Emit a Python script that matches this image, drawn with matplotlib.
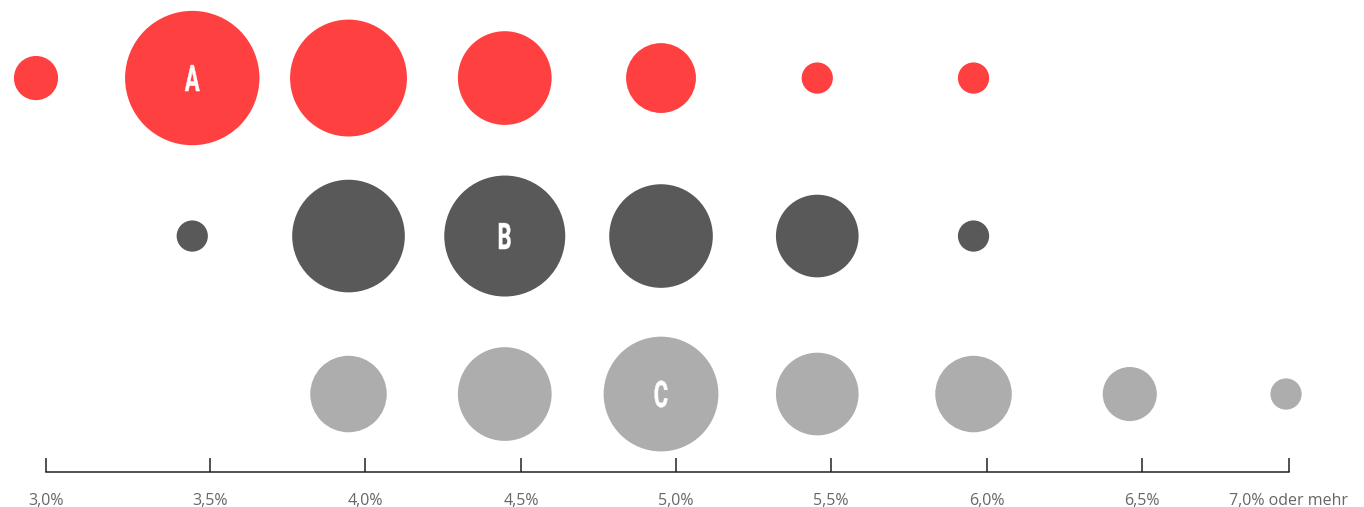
import numpy as np
import matplotlib
matplotlib.use("Agg")
import matplotlib.pyplot as plt
from matplotlib.textpath import TextPath
from matplotlib.patches import PathPatch
from matplotlib.font_manager import FontProperties
from matplotlib.transforms import Affine2D, ScaledTranslation

# Interest-rate buckets (x axis)
rate_labels = ["3,0%", "3,5%", "4,0%", "4,5%", "5,0%", "5,5%", "6,0%", "6,5%", "7,0% oder mehr"]
tick_pos = [0.064, 1.114, 2.106, 3.104, 4.096, 5.088, 6.086, 7.078, 8.019]

# Share of each group per bucket (percent); bucket index for each value
series_names = ["A", "B", "C"]
a_idx = [0, 1, 2, 3, 4, 5, 6]
a_vals = [4, 37, 28, 18, 10, 2, 2]
b_idx = [1, 2, 3, 4, 5, 6]
b_vals = [2, 26, 30, 22, 14, 2]
c_idx = [2, 3, 4, 5, 6, 7, 8]
c_vals = [12, 18, 27, 14, 12, 6, 2]

colors = ["#FF4040", "#595959", "#ADADAD"]

DPI = 100
fig = plt.figure(figsize=(13.64, 5.07), dpi=DPI)
ax = fig.add_axes([0, 0, 1, 1])
ax.set_xlim(-0.2304, 8.499)
ax.set_ylim(2.715, -0.494)

# bubble area proportional to share: radius_px = sqrt(122 * value)
def area_pts(vals):
    r_px = np.sqrt(122.0 * np.asarray(vals, dtype=float))
    d_pt = 2 * r_px * 72.0 / DPI
    return d_pt ** 2

# narrow, bold letter centred on a data point (sizes in pixels)
letter_font = FontProperties(family="Roboto", weight="bold")

def narrow_letter(x, y, s, cap_px=26.0, squeeze=0.6):
    tp = TextPath((0, 0), s, size=cap_px / 0.711, prop=letter_font)
    ext = tp.get_extents()
    cx = (ext.x0 + ext.x1) / 2
    cy = (ext.y0 + ext.y1) / 2
    tr = (Affine2D().translate(-cx, -cy).scale(squeeze, 1.0)
          + ScaledTranslation(x, y, ax.transData))
    ax.add_patch(PathPatch(tp, transform=tr, facecolor="white",
                           edgecolor="white", linewidth=0.3, zorder=3))

rows = [(a_idx, a_vals), (b_idx, b_vals), (c_idx, c_vals)]
for row, ((idx, vals), col, name) in enumerate(zip(rows, colors, series_names)):
    ax.scatter(idx, [row] * len(idx), s=area_pts(vals), color=col,
               edgecolors="none", zorder=2)
    k = int(np.argmax(vals))
    narrow_letter(idx[k], row, name)

# axis line with upward ticks
for s in ["top", "left", "right"]:
    ax.spines[s].set_visible(False)
ax.spines["bottom"].set_position(("data", 2.494))
ax.spines["bottom"].set_bounds(tick_pos[0], tick_pos[-1])
ax.spines["bottom"].set_color("#222222")
ax.spines["bottom"].set_linewidth(1.1)
ax.set_xticks(tick_pos)
ax.set_xticklabels(rate_labels, family="Open Sans", fontsize=11.5, color="#666666")
ax.tick_params(axis="x", direction="in", length=10, width=1.1,
               color="#222222", pad=15)
ax.set_yticks([])
ax.patch.set_alpha(0)

fig.savefig("out.png", dpi=DPI, facecolor="white")
